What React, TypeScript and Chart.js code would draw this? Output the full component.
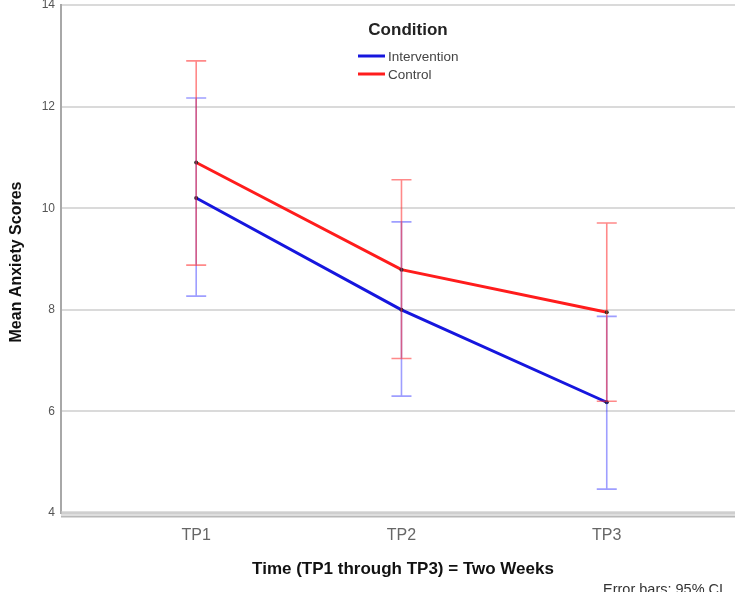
import React, { useEffect, useRef } from "react";
import { Chart, registerables } from "chart.js";

Chart.register(...registerables);

const categories = ["TP1", "TP2", "TP3"];
const interventionMean = [10.2, 8.0, 6.18];
const interventionLow = [8.27, 6.3, 4.47];
const interventionHigh = [12.17, 9.73, 7.87];
const controlMean = [10.9, 8.79, 7.95];
const controlLow = [8.88, 7.04, 6.2];
const controlHigh = [12.9, 10.56, 9.71];
const yTicks = [4, 6, 8, 10, 12, 14];

const BLUE = "rgb(22,22,222)";
const RED = "rgb(255,28,28)";
const FONT = "Arial, 'Liberation Sans', sans-serif";

const errorBarPlugin = {
  id: "errorBars",
  afterDatasetsDraw(chart: any) {
    const { ctx, scales } = chart;
    const xs = scales.x;
    const ys = scales.y;
    const groups = [
      { low: interventionLow, high: interventionHigh, color: "rgba(40,40,255,0.45)" },
      { low: controlLow, high: controlHigh, color: "rgba(255,40,40,0.55)" },
    ];
    ctx.save();
    groups.forEach((g) => {
      ctx.strokeStyle = g.color;
      ctx.lineWidth = 1.6;
      categories.forEach((_, i) => {
        const x = xs.getPixelForValue(i + 1);
        const y1 = ys.getPixelForValue(g.low[i]);
        const y2 = ys.getPixelForValue(g.high[i]);
        ctx.beginPath();
        ctx.moveTo(x, y1);
        ctx.lineTo(x, y2);
        ctx.moveTo(x - 10, y1);
        ctx.lineTo(x + 10, y1);
        ctx.moveTo(x - 10, y2);
        ctx.lineTo(x + 10, y2);
        ctx.stroke();
      });
    });
    ctx.restore();
  },
};

const decorPlugin = {
  id: "decor",
  beforeDraw(chart: any) {
    const { ctx, width, height } = chart;
    ctx.save();
    ctx.fillStyle = "#ffffff";
    ctx.fillRect(0, 0, width, height);
    ctx.restore();
  },
  afterDraw(chart: any) {
    const { ctx, chartArea } = chart;
    ctx.save();
    // legend
    ctx.fillStyle = "#222";
    ctx.font = `bold 17px ${FONT}`;
    ctx.textAlign = "center";
    ctx.textBaseline = "middle";
    ctx.fillText("Condition", 408, 30);
    ctx.font = `13.5px ${FONT}`;
    ctx.textAlign = "left";
    ctx.fillStyle = "#444";
    const items = [
      { label: "Intervention", color: BLUE, y: 56 },
      { label: "Control", color: RED, y: 74 },
    ];
    items.forEach((it) => {
      ctx.strokeStyle = it.color;
      ctx.lineWidth = 3;
      ctx.beginPath();
      ctx.moveTo(358, it.y);
      ctx.lineTo(385, it.y);
      ctx.stroke();
      ctx.fillText(it.label, 388, it.y + 1);
    });
    // titles
    ctx.fillStyle = "#111";
    ctx.font = `bold 17px ${FONT}`;
    ctx.textAlign = "center";
    ctx.fillText("Time (TP1 through TP3) = Two Weeks", 403, 569);
    ctx.save();
    ctx.translate(17, 262);
    ctx.rotate(-Math.PI / 2);
    ctx.font = `bold 16px ${FONT}`;
    ctx.fillText("Mean Anxiety Scores", 0, 0);
    ctx.restore();
    ctx.font = `14.5px ${FONT}`;
    ctx.fillStyle = "#333";
    ctx.textAlign = "left";
    ctx.fillText("Error bars: 95% CI", 603, 590);
    // bottom axis band
    ctx.fillStyle = "rgba(200,200,200,0.6)";
    ctx.fillRect(chartArea.left, chartArea.bottom - 2, chartArea.right - chartArea.left, 6);
    ctx.fillStyle = "#b8b8b8";
    ctx.fillRect(chartArea.left, chartArea.bottom + 3, chartArea.right - chartArea.left, 1.5);
    ctx.restore();
  },
};

export default function App() {
  const ref = useRef<HTMLCanvasElement | null>(null);
  useEffect(() => {
    if (!ref.current) return;
    const chart = new Chart(ref.current, {
      type: "line",
      data: {
        datasets: [
          {
            label: "Intervention",
            data: interventionMean.map((v, i) => ({ x: i + 1, y: v })),
            borderColor: BLUE,
            backgroundColor: BLUE,
            borderWidth: 3,
            pointRadius: 2,
            pointBackgroundColor: "#223",
            pointBorderWidth: 0,
            tension: 0,
          },
          {
            label: "Control",
            data: controlMean.map((v, i) => ({ x: i + 1, y: v })),
            borderColor: RED,
            backgroundColor: RED,
            borderWidth: 3,
            pointRadius: 2,
            pointBackgroundColor: "#232",
            pointBorderWidth: 0,
            tension: 0,
          },
        ],
      },
      options: {
        responsive: false,
        animation: false,
        layout: { padding: { top: 5, left: 0, right: 0, bottom: 0 } },
        plugins: { legend: { display: false }, tooltip: { enabled: false } },
        scales: {
          x: {
            type: "linear",
            min: 0.3414,
            max: 3.6247,
            afterBuildTicks: (s: any) => {
              s.ticks = categories.map((_, i) => ({ value: i + 1 }));
            },
            afterFit: (s: any) => {
              s.height = 79;
              s.paddingLeft = 0;
              s.paddingRight = 0;
            },
            ticks: {
              callback: (v: any) => categories[Number(v) - 1] ?? "",
              color: "#666",
              font: { family: FONT, size: 16 },
              padding: 13,
              maxRotation: 0,
            },
            grid: { display: false, drawTicks: false },
            border: { display: false },
          },
          y: {
            type: "linear",
            min: 4,
            max: 14,
            afterBuildTicks: (s: any) => {
              s.ticks = yTicks.map((v) => ({ value: v }));
            },
            afterFit: (s: any) => {
              s.width = 61;
              s.paddingTop = 0;
              s.paddingBottom = 0;
            },
            ticks: {
              color: "#555",
              font: { family: FONT, size: 12 },
              padding: 6,
            },
            grid: { color: "#dadada", lineWidth: 2, drawTicks: false },
            border: { display: true, color: "#a8a8a8", width: 2 },
          },
        },
      },
      plugins: [errorBarPlugin, decorPlugin],
    } as any);
    return () => chart.destroy();
  }, []);
  return (
    <div style={{ position: "fixed", left: 0, top: 0, width: 739, height: 592, background: "#fff" }}>
      <canvas ref={ref} width={739} height={592} style={{ display: "block" }} />
    </div>
  );
}
